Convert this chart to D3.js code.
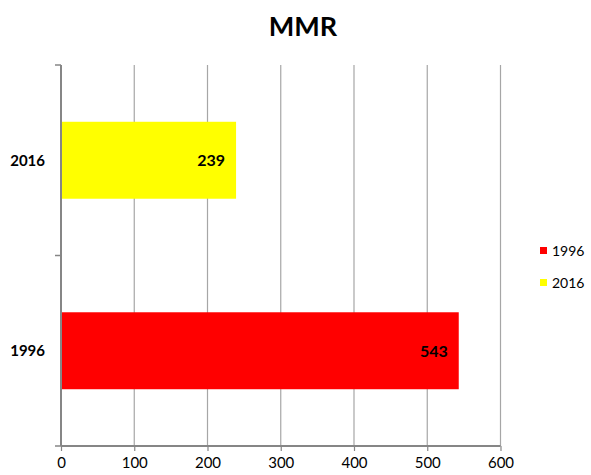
<!DOCTYPE html>
<html><head><meta charset="utf-8">
<script src="https://cdn.jsdelivr.net/npm/d3@7"></script>
<style>body{margin:0;background:#fff}svg{display:block;font-family:Lato,"Open Sans",sans-serif}</style>
</head><body><svg id="c" width="591" height="475"></svg>
<script>
const title = "MMR";
const categories = ["2016", "1996"];
const values = [239, 543];
const colors = ["#FFFF00", "#FF0000"];
const legendOrder = ["1996", "2016"];
const xTicks = [0, 100, 200, 300, 400, 500, 600];

(function () {
const svg = d3.select("#c");
const pL = 61, pR = 500.5, pT = 65, pB = 446;
const x = d3.scaleLinear().domain([0, 600]).range([pL, pR]);
const y = d3.scaleBand().domain(categories).range([pT, pB]).paddingInner(0.596).paddingOuter(0.298);
const yOuter = d3.scaleBand().domain(categories).range([pT, pB]);

svg.append("text").attr("x", 303).attr("y", 36).attr("text-anchor", "middle")
  .attr("font-size", 27).attr("font-weight", "bold").text(title);

// gridlines
svg.append("g").selectAll("line").data(xTicks.slice(1)).join("line")
  .attr("x1", d => x(d)).attr("x2", d => x(d)).attr("y1", pT).attr("y2", pB)
  .attr("stroke", "#a6a6a6").attr("stroke-width", 1.2);

// bars
svg.append("g").selectAll("rect").data(categories).join("rect")
  .attr("x", x(0)).attr("y", d => y(d)).attr("height", y.bandwidth())
  .attr("width", (d, i) => x(values[i]) - x(0)).attr("fill", (d, i) => colors[i]);

// value labels
svg.append("g").selectAll("text").data(categories).join("text")
  .attr("x", (d, i) => x(values[i]) - 11).attr("y", d => y(d) + y.bandwidth() / 2)
  .attr("dy", "0.36em").attr("text-anchor", "end").attr("font-size", 16).attr("font-weight", "bold")
  .text((d, i) => values[i]);

// x axis
const xa = svg.append("g").attr("transform", `translate(0,${pB})`)
  .call(d3.axisBottom(x).tickValues(xTicks).tickSize(5).tickPadding(6));
xa.select(".domain").attr("stroke", "#868686").attr("stroke-width", 2).attr("d", `M${pL},0H${pR}`);
xa.selectAll(".tick line").attr("stroke", "#868686").attr("stroke-width", 1.2);
xa.selectAll("text").attr("font-size", 15).attr("fill", "#000").attr("font-family", "Lato,'Open Sans',sans-serif");

// y axis
const ya = svg.append("g").attr("transform", `translate(${pL},0)`);
ya.append("line").attr("x1", 0).attr("x2", 0).attr("y1", pT).attr("y2", pB).attr("stroke", "#868686").attr("stroke-width", 2);
const bounds = [pT, yOuter("1996"), pB];
ya.selectAll(".t").data(bounds).join("line").attr("class", "t")
  .attr("x1", -6).attr("x2", 0).attr("y1", d => d).attr("y2", d => d)
  .attr("stroke", "#868686").attr("stroke-width", 1.5);
ya.selectAll(".lab").data(categories).join("text").attr("class", "lab")
  .attr("x", -16).attr("y", d => y(d) + y.bandwidth() / 2).attr("dy", "0.36em")
  .attr("text-anchor", "end").attr("font-size", 15).attr("font-weight", "bold").text(d => d);

// legend
const lg = svg.append("g");
legendOrder.forEach((name, i) => {
  const idx = categories.indexOf(name);
  const yy = 251 + i * 32;
  lg.append("rect").attr("x", 540).attr("y", yy - 4).attr("width", 7).attr("height", 7).attr("fill", colors[idx]);
  lg.append("text").attr("x", 552).attr("y", yy).attr("dy", "0.36em").attr("font-size", 14).text(name);
});
})();
</script></body></html>
